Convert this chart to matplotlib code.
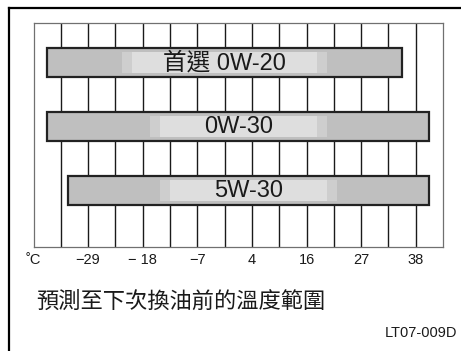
import matplotlib.pyplot as plt
from matplotlib.patches import Rectangle
from matplotlib.lines import Line2D

# Dane (skala wewnętrzna w °F, etykiety w °C)
oils = ["首選 0W-20", "0W-30", "5W-30"]
start_f = [-35, -35, -27.5]
end_f = [95, 105, 105]
tick_f = [-40, -20, 0, 20, 40, 60, 80, 100]
tick_labels = ["˚C", "−29", "− 18", "−7", "4", "16", "27", "38"]
grid_f = list(range(-30, 110, 10))
caption = "預測至下次換油前的溫度範圍"
code = "LT07-009D"

plt.rcParams['font.family'] = ['Liberation Sans', 'Noto Sans CJK TC', 'DejaVu Sans']

fig = plt.figure(figsize=(4.61, 3.51), dpi=100)
ax = fig.add_axes([33.5 / 461, 1 - 247 / 351, (443 - 33.5) / 461, (247 - 23) / 351])
ax.set_xlim(-40, 110)
ax.set_ylim(2.883, -0.617)

# siatka
for g in grid_f:
    ax.axvline(g, color='#1a1a1a', lw=1.0, zorder=1)
for s in ax.spines.values():
    s.set_color('#707070')
    s.set_linewidth(0.9)

# paski
pos = list(range(len(oils)))
widths = [e - s for s, e in zip(start_f, end_f)]
ax.barh(pos, widths, left=start_f, height=0.45, color='#bfbfbf',
        edgecolor='#222222', linewidth=1.6, zorder=3)

box_w = [75, 65, 65]
for i, name in enumerate(oils):
    c = (start_f[i] + end_f[i]) / 2
    w = box_w[i]
    ax.add_patch(Rectangle((c - w / 2, i - 0.165), w, 0.33, facecolor='#cecece',
                           edgecolor='none', zorder=4))
    ax.add_patch(Rectangle((c - w / 2 + 3.7, i - 0.165), w - 7.4, 0.33,
                           facecolor='#dedede', edgecolor='none', zorder=4))
    ax.text(c, i + 0.01, name, ha='center', va='center', fontsize=17,
            color='#1a1a1a', zorder=5)

ax.set_yticks([])
ax.set_xticks(tick_f)
ax.set_xticklabels(tick_labels, fontsize=10.5, color='#1a1a1a')
ax.tick_params(axis='x', length=0, pad=4)

# ramka zewnętrzna
fig.add_artist(Line2D([8.5 / 461, 8.5 / 461], [0, 1 - 8 / 351], color='black', lw=1.6))
fig.add_artist(Line2D([8.5 / 461, 1], [1 - 8 / 351, 1 - 8 / 351], color='black', lw=1.6))

fig.text(36 / 461, 1 - 302 / 351, caption, fontsize=16, va='center', ha='left',
         color='#1a1a1a')
fig.text(457 / 461, 1 - 333 / 351, code, fontsize=10.5, va='center', ha='right',
         color='#1a1a1a')

fig.savefig('out.png', dpi=100)
